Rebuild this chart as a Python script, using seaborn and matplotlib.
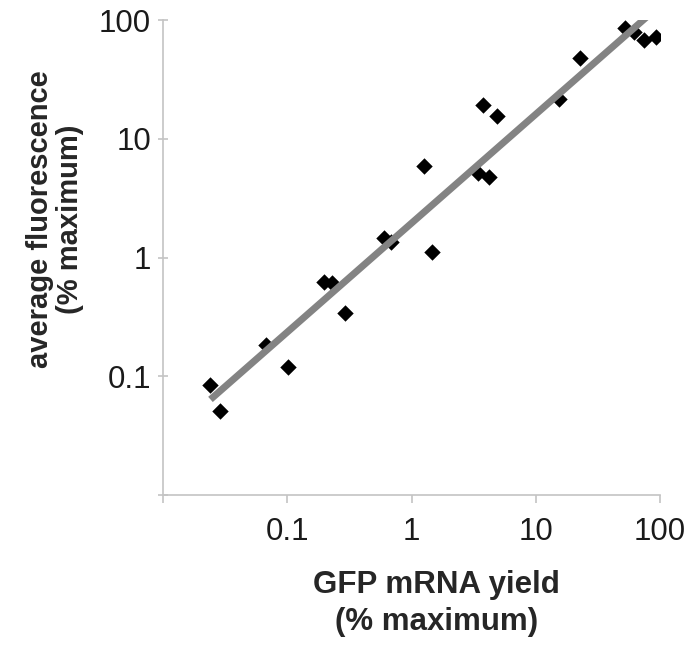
import numpy as np
import pandas as pd
import seaborn as sns
import matplotlib.pyplot as plt
from matplotlib.ticker import FixedLocator, FixedFormatter, NullLocator

sns.set_style("white")
plt.rcParams['font.family'] = ['Liberation Sans', 'DejaVu Sans']

# values (% maximum)
mrna_yield = [52.7, 61.2, 73.7, 92.0, 22.9, 15.5, 3.73, 4.92, 3.46, 4.24,
              1.27, 0.606, 0.690, 1.45, 0.196, 0.227, 0.289, 0.068, 0.1005,
              0.0241, 0.0290]
fluorescence = [86.3, 79.9, 68.4, 72.5, 48.3, 21.8, 19.4, 15.7, 5.19, 4.81,
                5.95, 1.47, 1.34, 1.12, 0.628, 0.616, 0.344, 0.185, 0.119,
                0.0837, 0.0515]
tick_vals = [0.01, 0.1, 1, 10, 100]
tick_text = ["", "0.1", "1", "10", "100"]

df = pd.DataFrame({"x": mrna_yield, "y": fluorescence})

# power-law trendline (least squares in log-log space)
slope, icpt = np.polyfit(np.log10(df["x"]), np.log10(df["y"]), 1)
fit_x = np.logspace(np.log10(df["x"].min()), np.log10(df["x"].max()), 50)
fit_y = 10 ** (icpt + slope * np.log10(fit_x))

fig = plt.figure(figsize=(6.87, 6.46), dpi=100)
ax = fig.add_axes([0.2373, 0.2337, 0.7234, 0.7353])

sns.scatterplot(data=df, x="x", y="y", marker="D", s=70, color="black",
                edgecolor="black", linewidth=0, ax=ax, zorder=2)
ax.plot(fit_x, fit_y, color="#838383", lw=5, solid_capstyle="butt", zorder=3)

ax.set_xscale("log")
ax.set_yscale("log")
ax.set_xlim(0.01, 100)
ax.set_ylim(0.01, 100)

for axis in (ax.xaxis, ax.yaxis):
    axis.set_major_locator(FixedLocator(tick_vals))
    axis.set_major_formatter(FixedFormatter(tick_text))
    axis.set_minor_locator(NullLocator())

sns.despine(ax=ax)
for sp in ("left", "bottom"):
    ax.spines[sp].set_color("#c4c4c4")
    ax.spines[sp].set_linewidth(1.2)

ax.tick_params(axis="x", direction="out", length=6, width=1.2, color="#c4c4c4",
               labelsize=22.5, labelcolor="#1a1a1a", pad=10, bottom=True)
ax.tick_params(axis="y", direction="inout", length=7, width=1.2, color="#c4c4c4",
               labelsize=22.5, labelcolor="#1a1a1a", pad=5, left=True)

ax.set_xlabel("GFP mRNA yield\n(% maximum)", fontsize=22.5, fontweight="bold",
              va="center", linespacing=1.3)
ax.xaxis.set_label_coords(0.551, -0.229)
ax.set_ylabel("average fluorescence\n(% maximum)", fontsize=21,
              fontweight="bold", va="center", linespacing=1.1)
ax.yaxis.set_label_coords(-0.217, 0.58)

fig.savefig("out.png", dpi=100)
